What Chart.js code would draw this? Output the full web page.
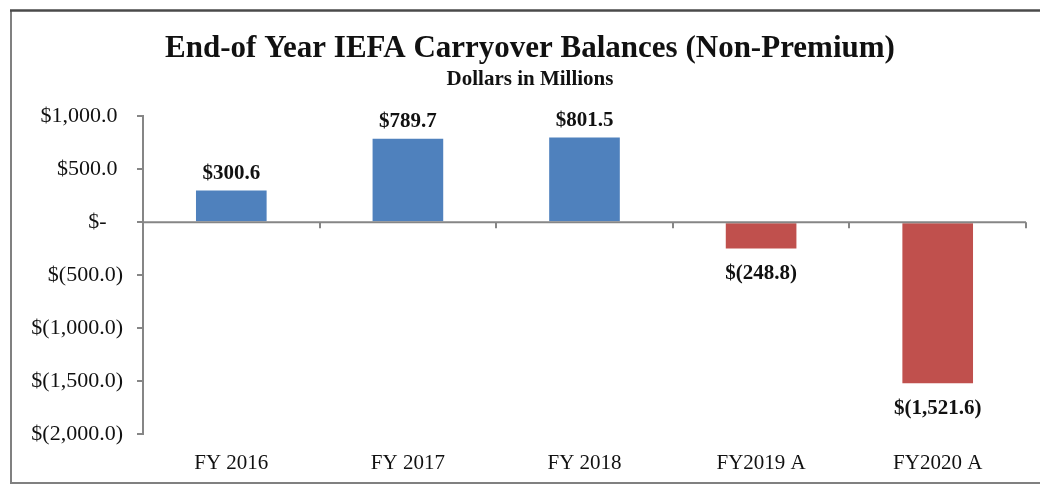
<!DOCTYPE html>
<html>
<head>
<meta charset="utf-8">
<script src="https://cdn.jsdelivr.net/npm/chart.js@4"></script>
<style>
html,body{margin:0;padding:0;background:#fff;}
#wrap{width:1040px;height:487px;position:relative;}
</style>
</head>
<body>
<div id="wrap"><canvas id="c" width="1040" height="487"></canvas></div>
<script>
const categories = ["FY 2016", "FY 2017", "FY 2018", "FY2019 A", "FY2020 A"];
const balances = [300.6, 789.7, 801.5, -248.8, -1521.6];
const yTicks = [1000, 500, 0, -500, -1000, -1500, -2000];
const titleText = "End-of Year IEFA Carryover Balances (Non-Premium)";
const subtitleText = "Dollars in Millions";

const SERIF = "'Liberation Serif', 'Times New Roman', serif";

function fmtMoney(v) {
  if (v === 0) return "$-";
  const s = Math.abs(v).toLocaleString("en-US", {minimumFractionDigits: 1, maximumFractionDigits: 1});
  return v < 0 ? "$(" + s + ")" : "$" + s;
}
function fmtTick(v) {
  if (v === 0) return "$-   ";
  return v < 0 ? fmtMoney(v) : fmtMoney(v) + " ";
}

const decor = {
  id: "decor",
  beforeDraw(chart) {
    const c = chart.ctx;
    c.save();
    c.fillStyle = "#fff";
    c.fillRect(0, 0, chart.width, chart.height);
    c.strokeStyle = "#808080";
    c.lineWidth = 2;
    c.beginPath();
    c.moveTo(11, 10); c.lineTo(11, 483); c.lineTo(1040, 483);
    c.stroke();
    c.strokeStyle = "#4a4a4a";
    c.lineWidth = 2.5;
    c.beginPath();
    c.moveTo(10, 10.5); c.lineTo(1040, 10.5);
    c.stroke();
    c.restore();
  },
  afterDatasetsDraw(chart) {
    const c = chart.ctx;
    const x = chart.scales.x, y = chart.scales.y;
    const y0 = y.getPixelForValue(0);
    c.save();
    c.strokeStyle = "#868686";
    c.lineWidth = 2;
    c.beginPath();
    c.moveTo(chart.chartArea.left, y0);
    c.lineTo(chart.chartArea.right, y0);
    c.stroke();
    const n = categories.length;
    const w = (chart.chartArea.right - chart.chartArea.left) / n;
    for (let i = 1; i <= n; i++) {
      const px = Math.round(x.getPixelForValue(i - 1) + w / 2);
      c.beginPath();
      c.moveTo(px, y0);
      c.lineTo(px, y0 + 6);
      c.stroke();
    }
    c.fillStyle = "#111";
    c.font = "bold 21px " + SERIF;
    c.textAlign = "center";
    c.textBaseline = "middle";
    const meta = chart.getDatasetMeta(0);
    meta.data.forEach((bar, i) => {
      const v = balances[i];
      const ty = v >= 0 ? bar.y - 17 : bar.y + 25;
      c.fillText(fmtMoney(v), bar.x, ty);
    });
    c.restore();
  }
};

new Chart(document.getElementById("c"), {
  type: "bar",
  data: {
    labels: categories,
    datasets: [{
      data: balances,
      backgroundColor: ctx => (ctx.raw < 0 ? "#C0504D" : "#4F81BD"),
      borderWidth: 0,
      categoryPercentage: 1.0,
      barPercentage: 0.4
    }]
  },
  options: {
    responsive: false,
    animation: false,
    layout: {padding: {left: 20, right: 0, top: 0, bottom: 0}},
    plugins: {
      legend: {display: false},
      tooltip: {enabled: false},
      title: {
        display: true,
        text: titleText,
        color: "#111",
        font: {family: SERIF, size: 31, weight: "bold"},
        padding: {top: 30, bottom: 0}
      },
      subtitle: {
        display: true,
        text: subtitleText,
        color: "#111",
        font: {family: SERIF, size: 21, weight: "bold"},
        padding: {top: 0, bottom: 24}
      }
    },
    scales: {
      x: {
        grid: {display: false},
        border: {display: false},
        ticks: {
          color: "#111",
          font: {family: SERIF, size: 21},
          padding: 9
        },
        afterFit(s) { s.height = 53; }
      },
      y: {
        min: -2000,
        max: 1000,
        afterBuildTicks(s) { s.ticks = yTicks.map(v => ({value: v})); },
        grid: {
          drawOnChartArea: false,
          drawTicks: true,
          tickLength: 6,
          color: "#868686",
          tickColor: "#868686",
          lineWidth: 2
        },
        border: {display: true, color: "#868686", width: 2},
        ticks: {
          color: "#111",
          font: {family: SERIF, size: 22},
          padding: 14,
          callback: v => fmtTick(v)
        },
        afterFit(s) { s.width = 123; }
      },
      yRight: {
        position: "right",
        display: true,
        grid: {display: false},
        border: {display: false},
        ticks: {display: false},
        afterFit(s) { s.width = 14; }
      }
    }
  },
  plugins: [decor]
});
</script>
</body>
</html>
